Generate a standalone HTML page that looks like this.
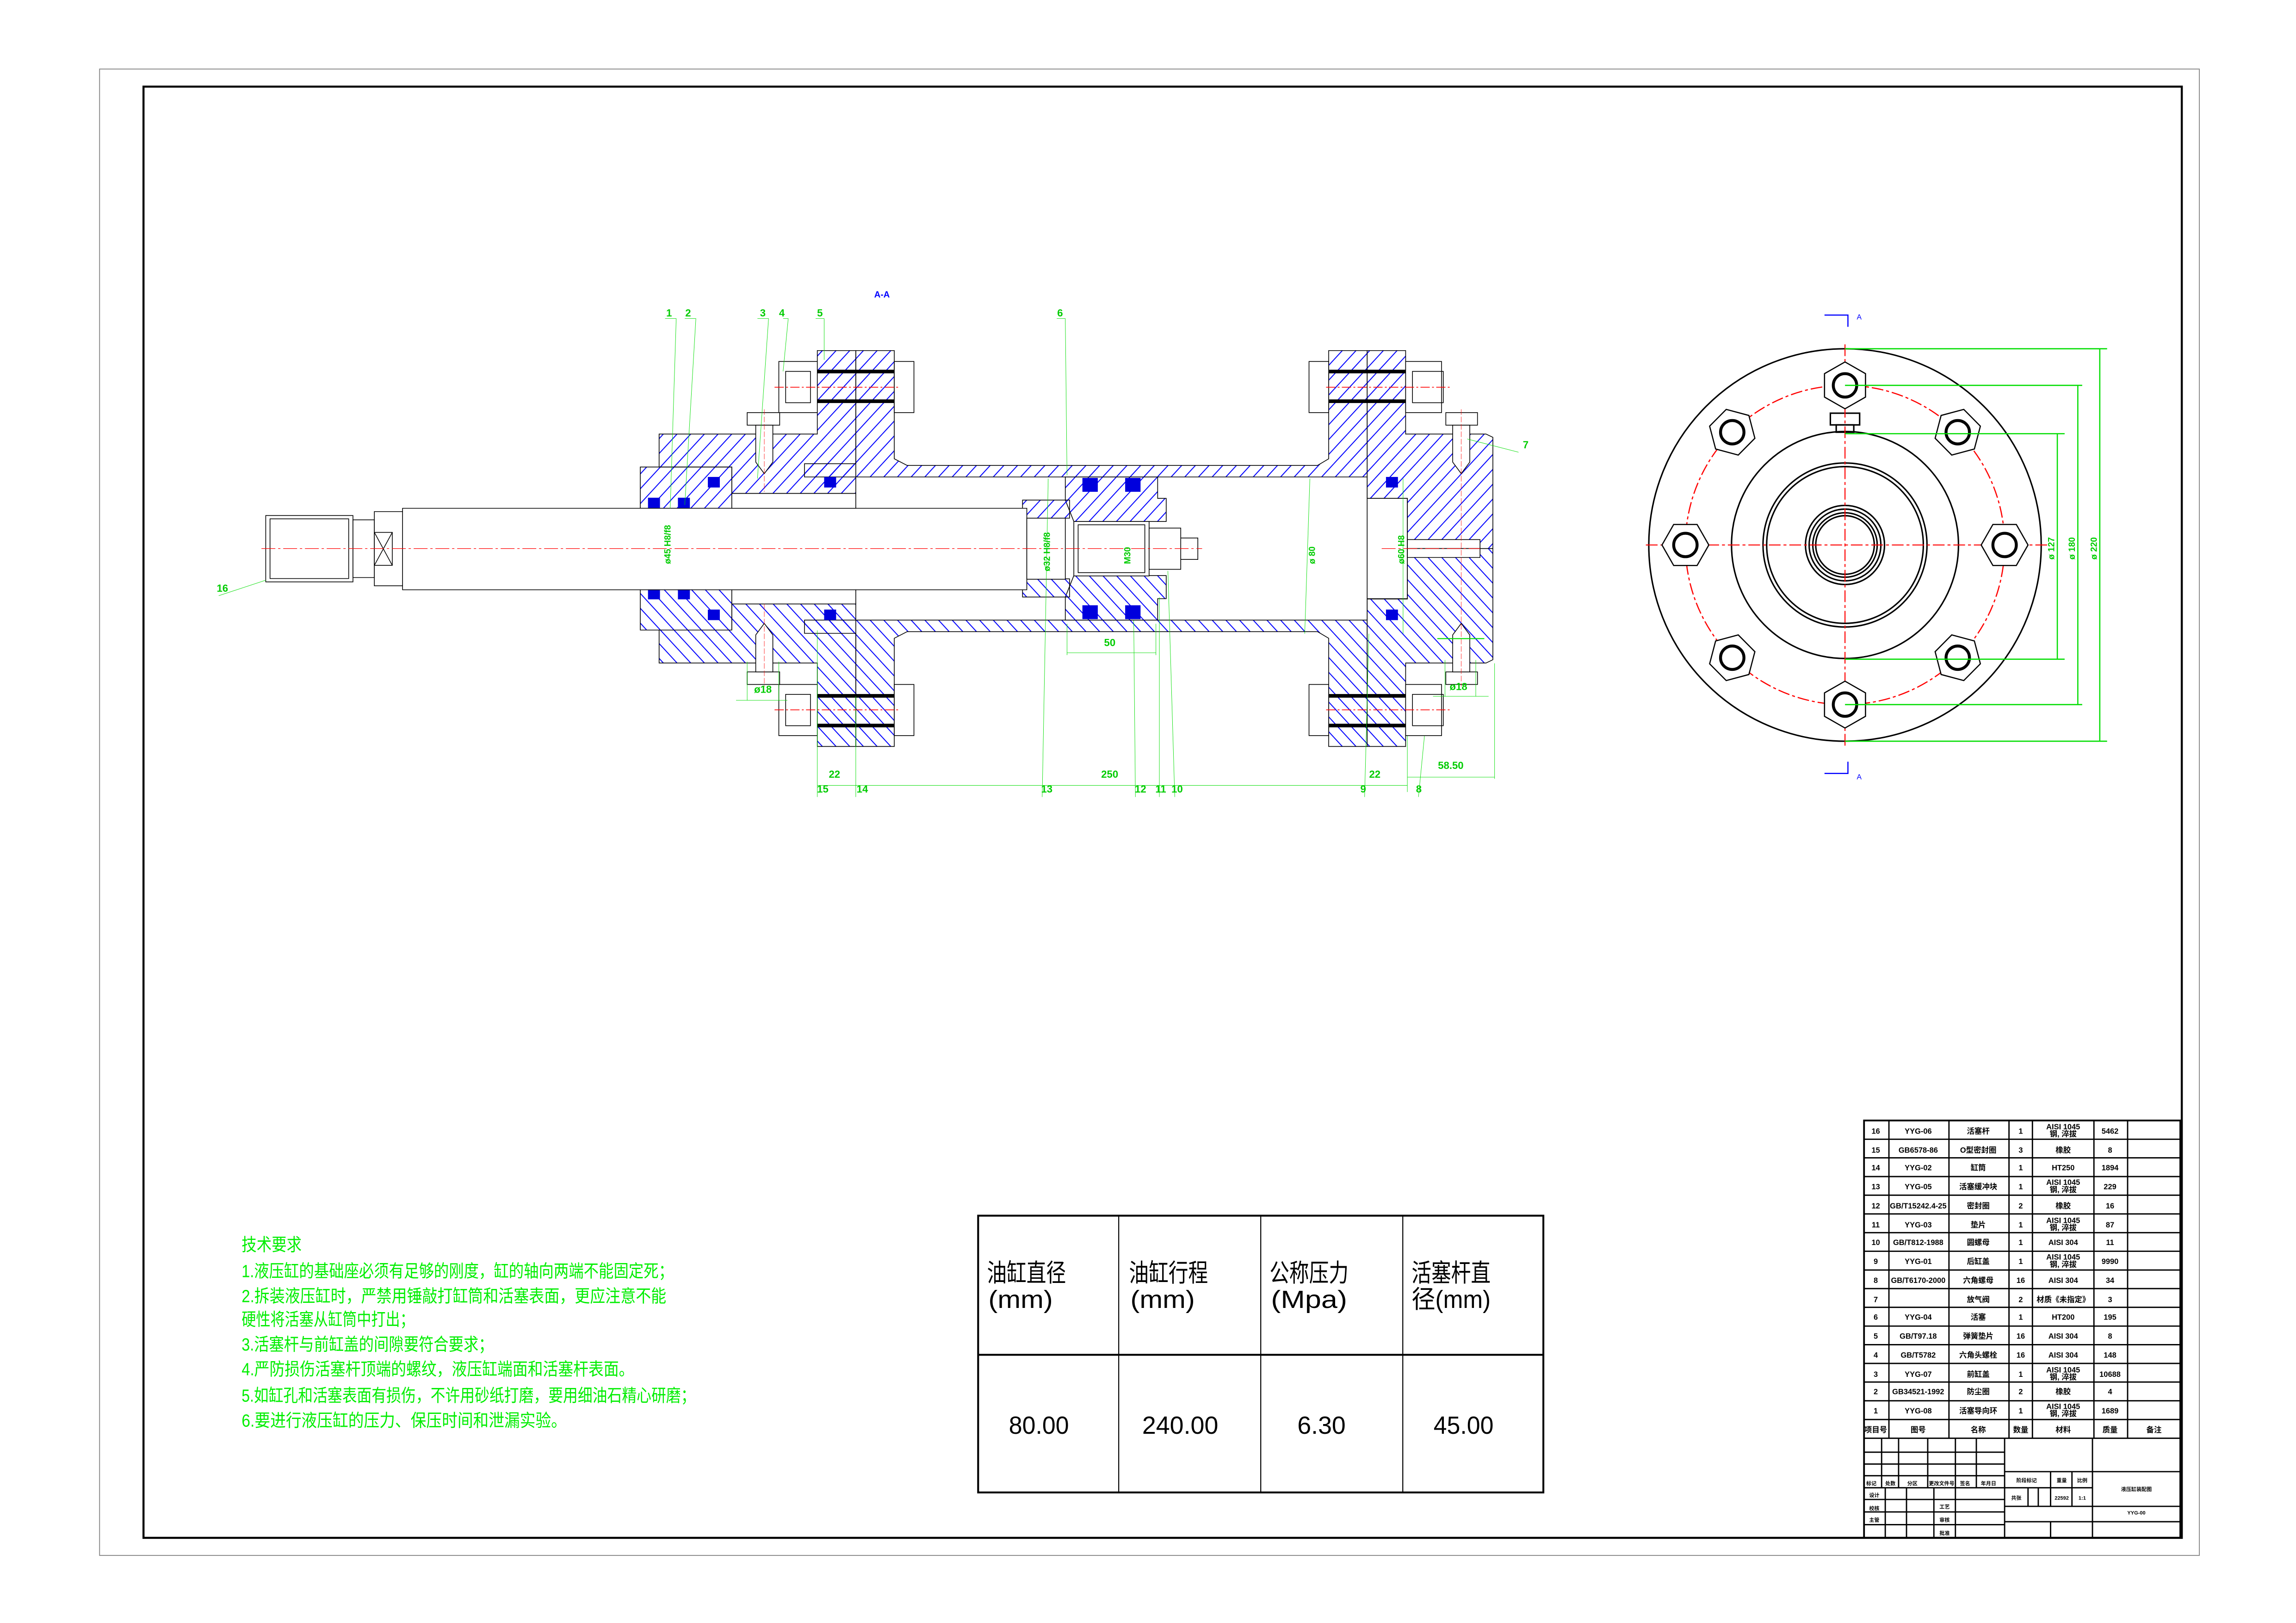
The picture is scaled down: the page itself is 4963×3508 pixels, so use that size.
<!DOCTYPE html>
<html><head><meta charset="utf-8"><style>
html,body{margin:0;padding:0;background:#fff}
svg{display:block}
text{font-family:"Liberation Sans","Noto Sans CJK SC",sans-serif}
</style></head><body>
<svg xmlns="http://www.w3.org/2000/svg" width="4963" height="3508" viewBox="0 0 1568 1108">
<defs>
<pattern id="h" patternUnits="userSpaceOnUse" width="16" height="45">
<path d="M-16,45 L0,0 M0,45 L16,0 M16,45 L32,0" stroke="#0000ff" stroke-width="1.4"/>
</pattern>
</defs>
<rect x="0" y="0" width="1568" height="1108" fill="#fff"/>
<rect x="68" y="47" width="1434" height="1015" fill="none" stroke="#888" stroke-width="0.6"/>
<rect x="98" y="59" width="1392" height="991" fill="none" stroke="#000" stroke-width="1.4"/>

<g transform="translate(126,205) scale(0.584,0.2253)">
 <g id="half" stroke="#000" stroke-width="1.6">
  <polygon points="533,505 640,505 640,630 533,630" fill="url(#h)" vector-effect="non-scaling-stroke"/>
  <polygon points="555,405 740,405 740,152 785,152 785,585 640,585 640,505 555,505" fill="url(#h)" vector-effect="non-scaling-stroke"/>
  <polygon points="785,152 830,152 830,480 845,500 1325,500 1338,480 1338,152 1383,152 1383,535 725,535 725,495 785,495" fill="url(#h)" vector-effect="non-scaling-stroke"/>
  <polygon points="1383,152 1428,152 1428,405 1522,405 1530,415 1530,752 1430,752 1430,600 1383,600" fill="url(#h)" vector-effect="non-scaling-stroke"/>
  <line x1="1383" y1="535" x2="1383" y2="600" vector-effect="non-scaling-stroke"/>
  <rect x="1430" y="725" width="85" height="27" fill="#fff" vector-effect="non-scaling-stroke"/>
  <polygon points="1030,535 1138,535 1138,600 1148,600 1148,670 1040,670 1030,605" fill="url(#h)" vector-effect="non-scaling-stroke"/>
  <polygon points="980,605 1035,605 1035,660 980,660" fill="url(#h)" vector-effect="non-scaling-stroke"/>
  <rect x="695" y="185" width="45" height="155" fill="#fff" vector-effect="non-scaling-stroke"/>
  <rect x="703" y="215" width="29" height="95" fill="none" vector-effect="non-scaling-stroke"/>
  <rect x="830" y="185" width="23" height="155" fill="#fff" vector-effect="non-scaling-stroke"/>
  <rect x="1428" y="185" width="42" height="155" fill="#fff" vector-effect="non-scaling-stroke"/>
  <rect x="1436" y="215" width="36" height="95" fill="none" vector-effect="non-scaling-stroke"/>
  <rect x="1315" y="185" width="23" height="155" fill="#fff" vector-effect="non-scaling-stroke"/>
  <rect x="658" y="340" width="38" height="38" fill="#fff" vector-effect="non-scaling-stroke"/>
  <polygon points="668,378 688,378 688,490 678,525 668,490" fill="#fff" vector-effect="non-scaling-stroke"/>
  <rect x="1475" y="340" width="37" height="38" fill="#fff" vector-effect="non-scaling-stroke"/>
  <polygon points="1483,378 1503,378 1503,490 1493,525 1483,490" fill="#fff" vector-effect="non-scaling-stroke"/>
  <rect x="740" y="210" width="90" height="11" fill="#000" stroke="none"/>
  <rect x="740" y="300" width="90" height="11" fill="#000" stroke="none"/>
  <rect x="1338" y="210" width="90" height="11" fill="#000" stroke="none"/>
  <rect x="1338" y="300" width="90" height="11" fill="#000" stroke="none"/>
  <line x1="690" y1="263" x2="835" y2="263" stroke="#f00" stroke-dasharray="20,5,4,5" vector-effect="non-scaling-stroke"/>
  <line x1="1335" y1="263" x2="1480" y2="263" stroke="#f00" stroke-dasharray="20,5,4,5" vector-effect="non-scaling-stroke"/>
  <g fill="#0000dd" stroke="none">
   <rect x="542" y="598" width="14" height="32"/><rect x="577" y="598" width="14" height="32"/>
   <rect x="612" y="535" width="14" height="32"/><rect x="748" y="535" width="14" height="32"/>
   <rect x="1050" y="538" width="18" height="42"/><rect x="1100" y="538" width="18" height="42"/>
   <rect x="1405" y="535" width="14" height="32"/>
  </g>
 </g>
 <use href="#half" transform="translate(0,1504) scale(1,-1)"/>
 <g stroke="#000" fill="#fff" stroke-width="1.6">
  <rect x="255" y="630" width="730" height="247" vector-effect="non-scaling-stroke"/>
  <rect x="95" y="652" width="102" height="201" vector-effect="non-scaling-stroke"/>
  <rect x="100" y="662" width="92" height="181" fill="none" vector-effect="non-scaling-stroke"/>
  <rect x="197" y="665" width="25" height="175" vector-effect="non-scaling-stroke"/>
  <rect x="222" y="640" width="33" height="225" vector-effect="non-scaling-stroke"/>
  <rect x="222" y="703" width="21" height="100" vector-effect="non-scaling-stroke"/>
  <path d="M222,703 L243,803 M243,703 L222,803" vector-effect="non-scaling-stroke"/>
  <rect x="640" y="585" width="145" height="45" vector-effect="non-scaling-stroke"/>
  <rect x="640" y="877" width="145" height="43" vector-effect="non-scaling-stroke"/>
  <rect x="1040" y="670" width="88" height="165" vector-effect="non-scaling-stroke"/>
  <rect x="1045" y="680" width="78" height="145" vector-effect="non-scaling-stroke"/>
  <rect x="985" y="660" width="45" height="185" vector-effect="non-scaling-stroke"/>
  <rect x="1128" y="690" width="37" height="125" vector-effect="non-scaling-stroke"/>
  <rect x="1165" y="720" width="20" height="65" vector-effect="non-scaling-stroke"/>
  <rect x="1383" y="600" width="47" height="305" fill="none" vector-effect="non-scaling-stroke"/>
 </g>
 <line x1="90" y1="752" x2="1190" y2="752" stroke="#f00" stroke-width="1.2" stroke-dasharray="30,6,5,6" vector-effect="non-scaling-stroke"/>
 <line x1="1400" y1="752" x2="1515" y2="752" stroke="#f00" stroke-width="1.2" stroke-dasharray="30,6,5,6" vector-effect="non-scaling-stroke"/>
 <line x1="678" y1="330" x2="678" y2="580" stroke="#f00" stroke-width="0.8" stroke-dasharray="12,4" vector-effect="non-scaling-stroke"/>
 <line x1="678" y1="920" x2="678" y2="1170" stroke="#f00" stroke-width="0.8" stroke-dasharray="12,4" vector-effect="non-scaling-stroke"/>
 <line x1="1493" y1="330" x2="1493" y2="1170" stroke="#f00" stroke-width="0.8" stroke-dasharray="12,4" vector-effect="non-scaling-stroke"/>
 <g stroke="#00dd00" stroke-width="0.9" fill="none">
  <path d="M562,55 L575,55 L568,630 M585,55 L598,55 L585,620 M670,55 L683,55 L670,540 M700,55 L706,55 L700,215 M738,55 L748,55 L748,180 M1020,55 L1030,55 L1032,530" vector-effect="non-scaling-stroke"/>
  <path d="M40,895 L95,848 M1500,420 L1560,460" vector-effect="non-scaling-stroke"/>
  <path d="M740,1505 L740,1000 M785,1505 L785,1200 M1003,1505 L1010,540 M1112,1505 L1110,970 M1140,1505 L1140,900 M1158,1505 L1150,820 M1380,1505 L1385,1010 M1443,1505 L1450,1320" vector-effect="non-scaling-stroke"/>
  <path d="M740,1470 L1430,1470 M1430,1445 L1532,1445 M1430,1490 L1430,1320 M1532,1450 L1532,1100 M1032,1068 L1136,1068 M1032,1075 L1032,980 M1136,1075 L1136,980 M645,1212 L705,1212 M1460,1200 L1525,1200 M1310,1010 L1316,540 M1425,1010 L1425,540 M1474,1090 L1474,1200 M1510,1090 L1510,1200 M658,1095 L658,1212 M695,1095 L695,1212" vector-effect="non-scaling-stroke"/>
  <line x1="1465" y1="1025" x2="1520" y2="1025" stroke-width="2.2" vector-effect="non-scaling-stroke"/>
 </g>
</g>
<g fill="#00cc00" font-size="7" font-weight="bold">
 <text x="455" y="216">1</text><text x="468" y="216">2</text><text x="519" y="216">3</text><text x="532" y="216">4</text><text x="558" y="216">5</text><text x="722" y="216">6</text>
 <text x="1040" y="306">7</text><text x="148" y="404">16</text>
 <text x="558" y="541">15</text><text x="585" y="541">14</text><text x="711" y="541">13</text><text x="775" y="541">12</text><text x="789" y="541">11</text><text x="800" y="541">10</text><text x="929" y="541">9</text><text x="967" y="541">8</text>
 <text x="566" y="531">22</text><text x="752" y="531">250</text><text x="935" y="531">22</text><text x="982" y="525">58.50</text><text x="754" y="441">50</text>
 <text x="515" y="473">ø18</text><text x="990" y="471">ø18</text>
 <text transform="translate(458,385) rotate(-90)" font-size="6">ø45 H8/f8</text>
 <text transform="translate(717,390) rotate(-90)" font-size="6">ø32 H8/f8</text>
 <text transform="translate(898,385) rotate(-90)" font-size="6">ø 80</text>
 <text transform="translate(772,385) rotate(-90)" font-size="6">M30</text>
 <text transform="translate(959,385) rotate(-90)" font-size="6">ø60 H8</text>
</g>
<text x="597" y="203" fill="#0000ff" font-size="6" font-weight="bold">A-A</text>

<g stroke="#000" fill="none" stroke-width="1">
 <circle cx="1260" cy="372" r="134"/>
 <circle cx="1260" cy="372" r="77.5"/>
 <circle cx="1260" cy="372" r="56"/>
 <circle cx="1260" cy="372" r="53.5"/>
 <circle cx="1260" cy="372" r="27"/>
 <circle cx="1260" cy="372" r="24.5"/>
 <circle cx="1260" cy="372" r="22"/>
 <circle cx="1260" cy="372" r="20"/>
 <rect x="1250" y="282" width="20" height="8" fill="#fff"/>
 <rect x="1254" y="290" width="12" height="5"/>
</g>
<circle cx="1260" cy="372" r="109" fill="none" stroke="#f00" stroke-width="0.8" stroke-dasharray="8,2,2,2"/>
<line x1="1260" y1="235" x2="1260" y2="510" stroke="#f00" stroke-width="0.7" stroke-dasharray="8,2,2,2"/>
<line x1="1124" y1="372" x2="1398" y2="372" stroke="#f00" stroke-width="0.7" stroke-dasharray="8,2,2,2"/>
<g stroke="#000" fill="#fff">
 <g transform="translate(1260,263)"><polygon points="16,0 8,14 -8,14 -16,0 -8,-14 8,-14" transform="rotate(90)" stroke-width="0.8"/><circle r="8" stroke-width="2" fill="none"/></g>
 <g transform="translate(1260,481)"><polygon points="16,0 8,14 -8,14 -16,0 -8,-14 8,-14" transform="rotate(90)" stroke-width="0.8"/><circle r="8" stroke-width="2" fill="none"/></g>
 <g transform="translate(1151,372)"><polygon points="16,0 8,14 -8,14 -16,0 -8,-14 8,-14" stroke-width="0.8"/><circle r="8" stroke-width="2" fill="none"/></g>
 <g transform="translate(1369,372)"><polygon points="16,0 8,14 -8,14 -16,0 -8,-14 8,-14" stroke-width="0.8"/><circle r="8" stroke-width="2" fill="none"/></g>
 <g transform="translate(1183,295)"><polygon points="16,0 8,14 -8,14 -16,0 -8,-14 8,-14" transform="rotate(15)" stroke-width="0.8"/><circle r="8" stroke-width="2" fill="none"/></g>
 <g transform="translate(1337,295)"><polygon points="16,0 8,14 -8,14 -16,0 -8,-14 8,-14" transform="rotate(-15)" stroke-width="0.8"/><circle r="8" stroke-width="2" fill="none"/></g>
 <g transform="translate(1183,449)"><polygon points="16,0 8,14 -8,14 -16,0 -8,-14 8,-14" transform="rotate(-15)" stroke-width="0.8"/><circle r="8" stroke-width="2" fill="none"/></g>
 <g transform="translate(1337,449)"><polygon points="16,0 8,14 -8,14 -16,0 -8,-14 8,-14" transform="rotate(15)" stroke-width="0.8"/><circle r="8" stroke-width="2" fill="none"/></g>
</g>
<g stroke="#00dd00" stroke-width="0.8" fill="none">
 <path d="M1260,238 L1439,238 M1260,263 L1422,263 M1260,296 L1410,296 M1260,450 L1410,450 M1260,481 L1422,481 M1260,506 L1439,506"/>
 <path d="M1405,296 L1405,450 M1419,263 L1419,481 M1434,238 L1434,506"/>
</g>
<g fill="#00cc00" font-size="6" font-weight="bold">
 <text transform="translate(1403,382) rotate(-90)">ø 127</text>
 <text transform="translate(1417,382) rotate(-90)">ø 180</text>
 <text transform="translate(1432,382) rotate(-90)">ø 220</text>
</g>
<g stroke="#0000ff" stroke-width="0.8" fill="none">
 <path d="M1246,215 L1262,215 L1262,223 M1246,528 L1262,528 L1262,520"/>
</g>
<text x="1268" y="218" fill="#0000ff" font-size="5">A</text>
<text x="1268" y="532" fill="#0000ff" font-size="5">A</text>

<g fill="#00ee00" font-size="12">
 <text x="165" y="854" textLength="41" lengthAdjust="spacingAndGlyphs">技术要求</text>
 <text x="165" y="872" textLength="295" lengthAdjust="spacingAndGlyphs">1.液压缸的基础座必须有足够的刚度，缸的轴向两端不能固定死；</text>
 <text x="165" y="889" textLength="290" lengthAdjust="spacingAndGlyphs">2.拆装液压缸时，严禁用锤敲打缸筒和活塞表面，更应注意不能</text>
 <text x="165" y="905" textLength="118" lengthAdjust="spacingAndGlyphs">硬性将活塞从缸筒中打出；</text>
 <text x="165" y="922" textLength="172" lengthAdjust="spacingAndGlyphs">3.活塞杆与前缸盖的间隙要符合要求；</text>
 <text x="165" y="939" textLength="268" lengthAdjust="spacingAndGlyphs">4.严防损伤活塞杆顶端的螺纹，液压缸端面和活塞杆表面。</text>
 <text x="165" y="957" textLength="310" lengthAdjust="spacingAndGlyphs">5.如缸孔和活塞表面有损伤，不许用砂纸打磨，要用细油石精心研磨；</text>
 <text x="165" y="974" textLength="222" lengthAdjust="spacingAndGlyphs">6.要进行液压缸的压力、保压时间和泄漏实验。</text>
</g>

<g stroke="#000" fill="none">
 <rect x="668" y="830" width="386" height="189" stroke-width="1.3"/>
 <line x1="668" y1="925" x2="1054" y2="925" stroke-width="1.3"/>
 <line x1="764" y1="830" x2="764" y2="1019" stroke-width="0.7"/>
 <line x1="861" y1="830" x2="861" y2="1019" stroke-width="0.7"/>
 <line x1="958" y1="830" x2="958" y2="1019" stroke-width="0.7"/>
</g>
<g fill="#000" font-size="17">
 <text x="674" y="875" textLength="54" lengthAdjust="spacingAndGlyphs">油缸直径</text>
 <text x="675" y="893" textLength="44" lengthAdjust="spacingAndGlyphs">(mm)</text>
 <text x="771" y="875" textLength="54" lengthAdjust="spacingAndGlyphs">油缸行程</text>
 <text x="772" y="893" textLength="44" lengthAdjust="spacingAndGlyphs">(mm)</text>
 <text x="867" y="875" textLength="54" lengthAdjust="spacingAndGlyphs">公称压力</text>
 <text x="868" y="893" textLength="52" lengthAdjust="spacingAndGlyphs">(Mpa)</text>
 <text x="964" y="875" textLength="54" lengthAdjust="spacingAndGlyphs">活塞杆直</text>
 <text x="964" y="893" textLength="54" lengthAdjust="spacingAndGlyphs">径(mm)</text>
 <text x="689" y="979" textLength="41" lengthAdjust="spacingAndGlyphs">80.00</text>
 <text x="780" y="979" textLength="52" lengthAdjust="spacingAndGlyphs">240.00</text>
 <text x="886" y="979" textLength="33" lengthAdjust="spacingAndGlyphs">6.30</text>
 <text x="979" y="979" textLength="41" lengthAdjust="spacingAndGlyphs">45.00</text>
</g>

<g stroke="#000" stroke-width="0.9" fill="none">
 <rect x="1273" y="765" width="216" height="285" stroke-width="1.2"/>
 <path d="M1273,777.8H1489M1273,790.5H1489M1273,803.3H1489M1273,816H1489M1273,828.8H1489M1273,841.6H1489M1273,854.3H1489M1273,867.1H1489M1273,879.8H1489M1273,892.6H1489M1273,905.4H1489M1273,918.1H1489M1273,930.9H1489M1273,943.6H1489M1273,956.4H1489M1273,969.2H1489M1273,982H1489"/>
 <path d="M1290,765V982M1331,765V982M1372,765V982M1388,765V982M1430,765V982M1453,765V982"/>
 <path d="M1273,991.5H1369M1273,999.6H1369M1273,1007.6H1369M1273,1015.8H1369M1273,1023.8H1369M1273,1032.3H1369M1273,1041H1369"/>
 <path d="M1285,982V1016M1296.6,982V1016M1316.5,982V1016M1335.4,982V1016M1349.7,982V1016"/>
 <path d="M1287.5,1016V1050M1302,1016V1050M1320.7,1016V1050M1335.4,1016V1050M1369,982V1050M1429,982V1050"/>
 <path d="M1369,1004.8H1489M1369,1015.8H1429M1369,1028.5H1489M1369,1039H1489"/>
 <path d="M1400.4,1004.8V1028.5M1415,1004.8V1028.5M1385,1015.8V1028.5M1392,1015.8V1028.5M1400.4,1039V1050"/>
</g>
<g fill="#000" font-size="5.2" font-weight="bold" text-anchor="middle">
 <text x="1281" y="774">16</text><text x="1310" y="774">YYG-06</text><text x="1351" y="774">活塞杆</text><text x="1380" y="774">1</text><text x="1409" y="771">AISI 1045</text><text x="1409" y="776">钢, 淬拔</text><text x="1441" y="774">5462</text>
 <text x="1281" y="787">15</text><text x="1310" y="787">GB6578-86</text><text x="1351" y="787">O型密封圈</text><text x="1380" y="787">3</text><text x="1409" y="787">橡胶</text><text x="1441" y="787">8</text>
 <text x="1281" y="799">14</text><text x="1310" y="799">YYG-02</text><text x="1351" y="799">缸筒</text><text x="1380" y="799">1</text><text x="1409" y="799">HT250</text><text x="1441" y="799">1894</text>
 <text x="1281" y="812">13</text><text x="1310" y="812">YYG-05</text><text x="1351" y="812">活塞缓冲块</text><text x="1380" y="812">1</text><text x="1409" y="809">AISI 1045</text><text x="1409" y="814">钢, 淬拔</text><text x="1441" y="812">229</text>
 <text x="1281" y="825">12</text><text x="1310" y="825">GB/T15242.4-25</text><text x="1351" y="825">密封圈</text><text x="1380" y="825">2</text><text x="1409" y="825">橡胶</text><text x="1441" y="825">16</text>
 <text x="1281" y="838">11</text><text x="1310" y="838">YYG-03</text><text x="1351" y="838">垫片</text><text x="1380" y="838">1</text><text x="1409" y="835">AISI 1045</text><text x="1409" y="840">钢, 淬拔</text><text x="1441" y="838">87</text>
 <text x="1281" y="850">10</text><text x="1310" y="850">GB/T812-1988</text><text x="1351" y="850">圆螺母</text><text x="1380" y="850">1</text><text x="1409" y="850">AISI 304</text><text x="1441" y="850">11</text>
 <text x="1281" y="863">9</text><text x="1310" y="863">YYG-01</text><text x="1351" y="863">后缸盖</text><text x="1380" y="863">1</text><text x="1409" y="860">AISI 1045</text><text x="1409" y="865">钢, 淬拔</text><text x="1441" y="863">9990</text>
 <text x="1281" y="876">8</text><text x="1310" y="876">GB/T6170-2000</text><text x="1351" y="876">六角螺母</text><text x="1380" y="876">16</text><text x="1409" y="876">AISI 304</text><text x="1441" y="876">34</text>
 <text x="1281" y="889">7</text><text x="1351" y="889">放气阀</text><text x="1380" y="889">2</text><text x="1409" y="889">材质《未指定》</text><text x="1441" y="889">3</text>
 <text x="1281" y="901">6</text><text x="1310" y="901">YYG-04</text><text x="1351" y="901">活塞</text><text x="1380" y="901">1</text><text x="1409" y="901">HT200</text><text x="1441" y="901">195</text>
 <text x="1281" y="914">5</text><text x="1310" y="914">GB/T97.18</text><text x="1351" y="914">弹簧垫片</text><text x="1380" y="914">16</text><text x="1409" y="914">AISI 304</text><text x="1441" y="914">8</text>
 <text x="1281" y="927">4</text><text x="1310" y="927">GB/T5782</text><text x="1351" y="927">六角头螺栓</text><text x="1380" y="927">16</text><text x="1409" y="927">AISI 304</text><text x="1441" y="927">148</text>
 <text x="1281" y="940">3</text><text x="1310" y="940">YYG-07</text><text x="1351" y="940">前缸盖</text><text x="1380" y="940">1</text><text x="1409" y="937">AISI 1045</text><text x="1409" y="942">钢, 淬拔</text><text x="1441" y="940">10688</text>
 <text x="1281" y="952">2</text><text x="1310" y="952">GB34521-1992</text><text x="1351" y="952">防尘圈</text><text x="1380" y="952">2</text><text x="1409" y="952">橡胶</text><text x="1441" y="952">4</text>
 <text x="1281" y="965">1</text><text x="1310" y="965">YYG-08</text><text x="1351" y="965">活塞导向环</text><text x="1380" y="965">1</text><text x="1409" y="962">AISI 1045</text><text x="1409" y="967">钢, 淬拔</text><text x="1441" y="965">1689</text>
 <text x="1281" y="978">项目号</text><text x="1310" y="978">图号</text><text x="1351" y="978">名称</text><text x="1380" y="978">数量</text><text x="1409" y="978">材料</text><text x="1441" y="978">质量</text><text x="1471" y="978">备注</text>
 <text x="1278" y="1014" font-size="3.5">标记</text><text x="1291" y="1014" font-size="3.5">处数</text><text x="1306" y="1014" font-size="3.5">分区</text><text x="1326" y="1014" font-size="3.5">更改文件号</text><text x="1342" y="1014" font-size="3.5">签名</text><text x="1358" y="1014" font-size="3.5">年月日</text>
 <text x="1280" y="1022" font-size="3.5">设计</text><text x="1280" y="1031" font-size="3.5">校核</text><text x="1280" y="1039" font-size="3.5">主管</text>
 <text x="1328" y="1030" font-size="3.5">工艺</text><text x="1328" y="1039" font-size="3.5">审核</text><text x="1328" y="1048" font-size="3.5">批准</text>
 <text x="1384" y="1012" font-size="3.5">阶段标记</text><text x="1408" y="1012" font-size="3.5">重量</text><text x="1422" y="1012" font-size="3.5">比例</text>
 <text x="1377" y="1024" font-size="3.5">共张</text><text x="1408" y="1024" font-size="3.5">22592</text><text x="1422" y="1024" font-size="3.5">1:1</text>
 <text x="1459" y="1018" font-size="3.5">液压缸装配图</text><text x="1459" y="1034" font-size="3.5">YYG-00</text>
</g>
</svg>
</body></html>
